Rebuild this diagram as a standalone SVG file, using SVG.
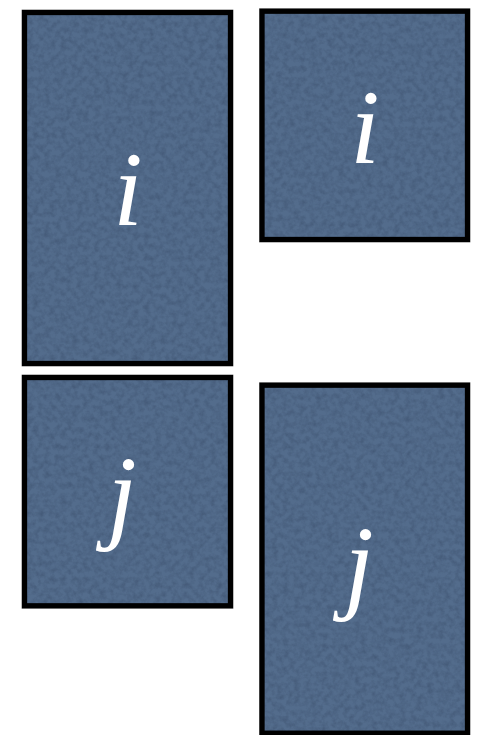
<svg xmlns="http://www.w3.org/2000/svg" width="487" height="735" viewBox="0 0 487 735">
  <defs>
    <filter id="tex" x="0" y="0" width="100%" height="100%" color-interpolation-filters="sRGB">
      <feTurbulence type="fractalNoise" baseFrequency="0.18" numOctaves="3" seed="7" result="n"/>
      <feColorMatrix in="n" type="matrix" values="0 0 0 0 0.2  0 0 0 0 0.27  0 0 0 0 0.38  0.8 0 0 0 -0.3" result="d"/>
      <feComposite in="d" in2="SourceGraphic" operator="in" result="dc"/>
      <feMerge><feMergeNode in="SourceGraphic"/><feMergeNode in="dc"/></feMerge>
    </filter>
    <style>
      .fill { fill: #536c8c; filter: url(#tex); }
      .frame { fill: none; stroke: #000; stroke-width: 5.3; }
      .halo { fill: none; stroke: #bbb; stroke-width: 1; }
      .lbl { font-family: "Liberation Serif", "Times New Roman", serif; font-style: italic; font-size: 106px; fill: #fff; text-anchor: middle; }
    </style>
  </defs>
  <g id="node-i-tall">
    <rect class="fill" x="24.5" y="12.5" width="206" height="351"/>
    <rect class="halo" x="22" y="10" width="211" height="356"/>
    <rect class="frame" x="24.5" y="12.5" width="206" height="351"/>
    <text class="lbl" x="128" y="225">i</text>
  </g>
  <g id="node-i-short">
    <rect class="fill" x="262" y="11.2" width="205.5" height="228.3"/>
    <rect class="halo" x="259.5" y="8.7" width="210.5" height="233.3"/>
    <rect class="frame" x="262" y="11.2" width="205.5" height="228.3"/>
    <text class="lbl" x="365" y="163">i</text>
  </g>
  <g id="node-j-short">
    <rect class="fill" x="24.5" y="377.5" width="206" height="228.3"/>
    <rect class="halo" x="22" y="375" width="211" height="233.3"/>
    <rect class="frame" x="24.5" y="377.5" width="206" height="228.3"/>
    <text class="lbl" x="122" y="529">j</text>
  </g>
  <g id="node-j-tall">
    <rect class="fill" x="262" y="385.2" width="205.5" height="348"/>
    <rect class="halo" x="259.5" y="382.7" width="210.5" height="353"/>
    <rect class="frame" x="262" y="385.2" width="205.5" height="348"/>
    <text class="lbl" x="359" y="599">j</text>
  </g>
  <g id="connectors"/>
</svg>
